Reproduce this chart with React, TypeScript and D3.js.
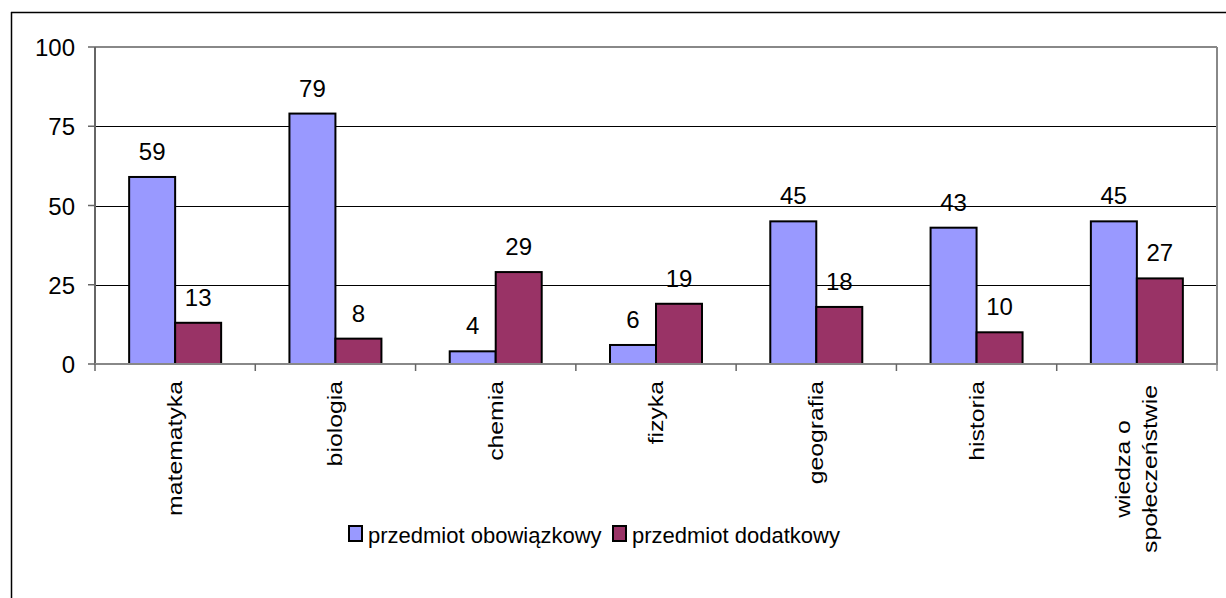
import React from "react";
import * as d3 from "d3";

const categories = ["matematyka", "biologia", "chemia", "fizyka", "geografia", "historia", "wiedza o społeczeństwie"];
const catLines = [["matematyka"], ["biologia"], ["chemia"], ["fizyka"], ["geografia"], ["historia"], ["wiedza o", "społeczeństwie"]];
const obowiazkowy = [59, 79, 4, 6, 45, 43, 45];
const dodatkowy = [13, 8, 29, 19, 18, 10, 27];
const seriesNames = ["przedmiot obowiązkowy", "przedmiot dodatkowy"];
const colors = ["#9999FF", "#993366"];
const yTicks = [0, 25, 50, 75, 100];

export default function App() {
  const W = 1226, H = 598;
  const left = 95, right = 1217, top = 47, bottom = 364;
  const x = d3.scaleBand<string>().domain(categories).range([left, right]).padding(0);
  const y = d3.scaleLinear().domain([0, 100]).range([bottom, top]);
  const bw = x.bandwidth() * (46 / 160.3);
  const font = "Arial, 'Liberation Sans', sans-serif";
  const series = [obowiazkowy, dodatkowy];
  const sx = 1.18;
  return (
    <svg width={W} height={H} style={{ position: "absolute", left: 0, top: 0 }} fontFamily={font}>
      <rect x={0} y={0} width={W} height={H} fill="#fff" />
      <line x1={11} y1={12.5} x2={W + 5} y2={12.5} stroke="#000" strokeWidth={1.5} />
      <line x1={11.5} y1={12} x2={11.5} y2={H + 5} stroke="#000" strokeWidth={1.5} />
      {yTicks.filter(t => t > 0 && t < 100).map(t => (
        <line key={t} x1={left} x2={right} y1={Math.round(y(t)) + 0.5} y2={Math.round(y(t)) + 0.5} stroke="#000" strokeWidth={1} />
      ))}
      <line x1={left} x2={right} y1={top} y2={top} stroke="#888" strokeWidth={2} />
      <line x1={right} x2={right} y1={top} y2={bottom} stroke="#888" strokeWidth={2} />
      {categories.map((c, i) => series.map((s, j) => {
        const x0 = x(c)! + (x.bandwidth() - 2 * bw) / 2 + j * bw;
        return (
          <g key={c + j}>
            <rect x={x0} y={y(s[i])} width={bw} height={bottom - y(s[i])} fill={colors[j]} stroke="#000" strokeWidth={2} />
            <text x={x0 + bw / 2} y={y(s[i]) - 17} textAnchor="middle" fontSize={24} fill="#000">{s[i]}</text>
          </g>
        );
      }))}
      <line x1={left} x2={left} y1={top} y2={bottom + 1} stroke="#666" strokeWidth={2} />
      <line x1={left - 1} x2={right + 1} y1={bottom} y2={bottom} stroke="#888" strokeWidth={2} />
      {yTicks.map(t => (
        <g key={t}>
          <line x1={left - 7} x2={left} y1={y(t)} y2={y(t)} stroke="#666" strokeWidth={1.5} />
          <text x={75} y={y(t) + 9} textAnchor="end" fontSize={24} fill="#000">{t}</text>
        </g>
      ))}
      {categories.map((c) => (
        <line key={"t" + c} x1={x(c)!} x2={x(c)!} y1={bottom} y2={bottom + 7} stroke="#666" strokeWidth={1.5} />
      ))}
      <line x1={right} x2={right} y1={bottom} y2={bottom + 7} stroke="#888" strokeWidth={1.5} />
      {categories.map((c, i) => {
        const cx = x(c)! + x.bandwidth() / 2;
        const lines = catLines[i];
        const multi = lines.length > 1;
        const anchor = multi ? "middle" : "end";
        const lx = multi ? -88 / sx : 0;
        return (
          <text key={"l" + c} transform={`translate(${cx},${381}) rotate(-90) scale(${sx},1)`} textAnchor={anchor} fontSize={21} fill="#000">
            {lines.map((ln, k) => (
              <tspan key={k} x={lx} y={7 + (k - (lines.length - 1) / 2) * 27}>{ln}</tspan>
            ))}
          </text>
        );
      })}
      {seriesNames.map((n, j) => {
        const lx = j === 0 ? 349 : 613;
        return (
          <g key={n}>
            <rect x={lx} y={526} width={13} height={15} fill={colors[j]} stroke="#000" strokeWidth={2} />
            <text x={lx + 19} y={543} fontSize={22} fill="#000">{n}</text>
          </g>
        );
      })}
    </svg>
  );
}
